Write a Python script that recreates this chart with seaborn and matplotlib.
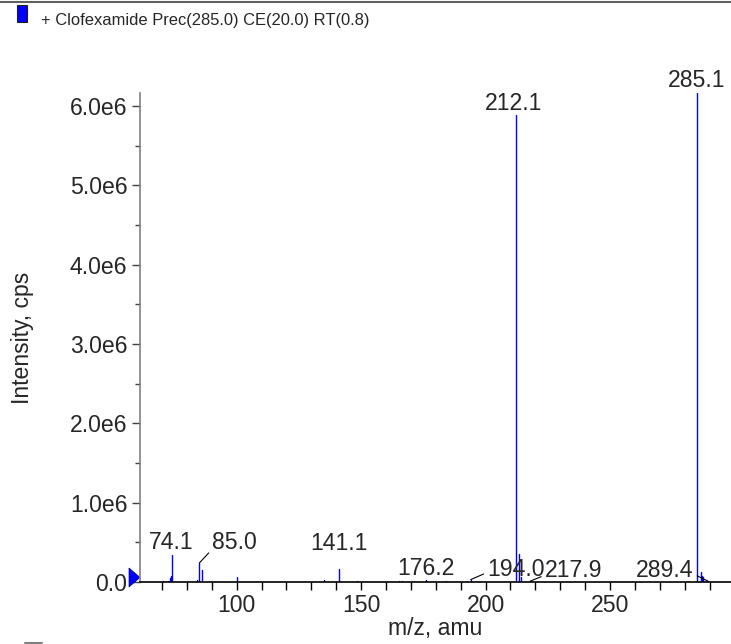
import numpy as np
import pandas as pd
import matplotlib
matplotlib.use("Agg")
import matplotlib.pyplot as plt
from matplotlib.patches import Rectangle, Polygon
from matplotlib.lines import Line2D
from matplotlib.ticker import MultipleLocator, FixedLocator, FuncFormatter
import seaborn as sns

# ---- data (m/z, intensity in cps) ----
peak_mz = [70.5, 72.3, 73.2, 73.6, 74.1, 84.0, 85.0, 86.1, 100.1, 135.0, 141.1,
           148.3, 165.3, 166.5, 176.2, 183.9, 194.0, 212.1, 213.4, 214.2, 217.9,
           285.1, 286.4, 287.0, 287.5, 289.4]
peak_int = [0.01e6, 0.01e6, 0.05e6, 0.07e6, 0.34e6, 0.02e6, 0.24e6, 0.15e6, 0.06e6, 0.02e6, 0.17e6,
            0.01e6, 0.01e6, 0.01e6, 0.03e6, 0.01e6, 0.03e6, 5.89e6, 0.35e6, 0.06e6, 0.01e6,
            6.20e6, 0.13e6, 0.08e6, 0.06e6, 0.01e6]

label_mz = [74.1, 85.0, 141.1, 176.2, 194.0, 212.1, 217.9, 285.1, 289.4]
label_text = ["74.1", "85.0", "141.1", "176.2", "194.0", "212.1", "217.9", "285.1", "289.4"]

xticks_major = [100, 150, 200, 250]
yticks_major = [0, 1e6, 2e6, 3e6, 4e6, 5e6, 6e6]
ytick_labels = ["0.0", "1.0e6", "2.0e6", "3.0e6", "4.0e6", "5.0e6", "6.0e6"]

title = "+ Clofexamide Prec(285.0) CE(20.0) RT(0.8)"
xlabel = "m/z, amu"
ylabel = "Intensity, cps"

# ---- styling ----
sns.set_theme(style="ticks")
plt.rcParams["font.family"] = ["Liberation Sans", "DejaVu Sans"]
FS = 16.6

# label offsets in pixels (dx, dy) from the peak top, and leader connection
label_offsets = {"74.1": (-1, 6), "85.0": (35, 14), "141.1": (0, 19), "176.2": (0, 5),
                 "194.0": (45, 4), "212.1": (-2, 5), "217.9": (43, 4), "285.1": (-1, 6),
                 "289.4": (-43, 4)}
leaders = {"85.0": (0.0, 0.2), "194.0": (0.0, 0.35), "217.9": (0.0, 0.3), "289.4": (1.0, 0.35)}

W, H = 731, 644
fig = plt.figure(figsize=(W / 100, H / 100), dpi=100)
ax = fig.add_axes([140 / W, 1 - 582 / H, 591 / W, 489 / H])

rows = []
for i, (m, h) in enumerate(zip(peak_mz, peak_int)):
    rows.append({"peak": i, "mz": m, "intensity": 0.0})
    rows.append({"peak": i, "mz": m, "intensity": h})
df = pd.DataFrame(rows)

sns.lineplot(data=df, x="mz", y="intensity", units="peak", estimator=None, sort=False,
             color="#0000FF", lw=1.0, ax=ax, legend=False)

ax.set_xlim(61.14, 298.6)
ax.set_ylim(0, 6.164e6)

for spine in ["top", "right"]:
    ax.spines[spine].set_visible(False)
ax.spines["left"].set_color("#808080")
ax.spines["bottom"].set_color("#000000")
ax.spines["left"].set_linewidth(1.2)
ax.spines["bottom"].set_linewidth(1.2)

ax.xaxis.set_major_locator(FixedLocator(xticks_major))
ax.xaxis.set_minor_locator(MultipleLocator(10))
ax.yaxis.set_major_locator(FixedLocator(yticks_major))
ax.yaxis.set_minor_locator(MultipleLocator(0.5e6))
ax.yaxis.set_major_formatter(FuncFormatter(lambda v, p: ytick_labels[yticks_major.index(v)] if v in yticks_major else ""))
ax.xaxis.set_major_formatter(FuncFormatter(lambda v, p: f"{int(v)}"))

ax.tick_params(axis="x", which="major", length=6, width=1, color="black", labelsize=FS, pad=2.5)
ax.tick_params(axis="x", which="minor", length=6, width=1, color="black")
ax.tick_params(axis="y", which="major", length=6, width=1, color="#404040", labelsize=FS, pad=3)
ax.tick_params(axis="y", which="minor", length=3.5, width=1, color="#404040")

ax.set_xlabel(xlabel, fontsize=FS, labelpad=0)
ax.set_ylabel(ylabel, fontsize=FS, labelpad=26)

for m, t in zip(label_mz, label_text):
    h = peak_int[peak_mz.index(m)]
    dx, dy = label_offsets[t]
    kw = {}
    if t in leaders:
        kw["arrowprops"] = dict(arrowstyle="-", color="black", lw=0.8, shrinkA=0, shrinkB=0,
                                relpos=leaders[t])
    ax.annotate(t, xy=(m, min(h, 6.164e6)), xytext=(dx, dy), textcoords="offset pixels",
                ha="center", va="baseline", fontsize=FS, annotation_clip=False, **kw)

# precursor marker triangle at left of axis
tri = Polygon([(-0.0186, -0.0102), (-0.0186, 0.0286), (0.0, 0.0092)], closed=True,
              transform=ax.transAxes, clip_on=False, facecolor="#0000FF", edgecolor="#000080", lw=0.5)
ax.add_patch(tri)

# header: legend swatch + title text
fig.add_artist(Rectangle((17 / W, 1 - 22 / H), 10 / W, 17 / H, transform=fig.transFigure,
                         facecolor="#0000FF", edgecolor="#202020", lw=0.8))
fig.text(41 / W, 1 - 20 / H, title, fontsize=11.9, ha="left", va="center")
fig.add_artist(Line2D([0, 1], [1 - 2 / H, 1 - 2 / H], transform=fig.transFigure,
                      color="#606060", lw=1.5))
fig.add_artist(Line2D([25 / W, 42 / W], [1 - 643 / H, 1 - 643 / H], transform=fig.transFigure,
                      color="#808080", lw=1.5))

fig.savefig("out.png", dpi=100)
